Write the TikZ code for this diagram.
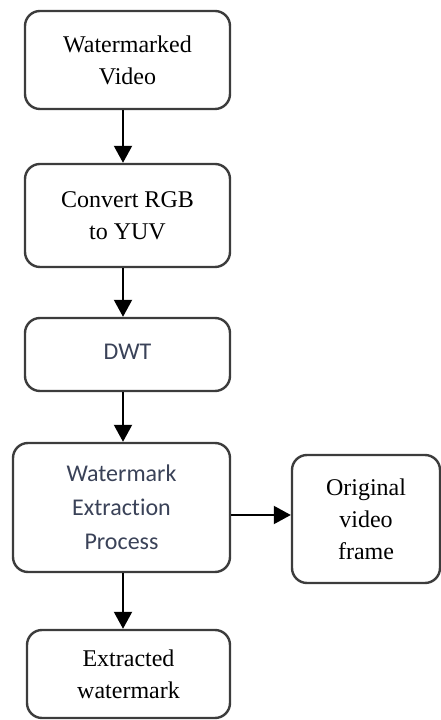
\documentclass[tikz,border=0pt]{standalone}
\usepackage{fontspec}
\setmainfont{Liberation Serif}
\newfontfamily\calfont[Ligatures={NoCommon}]{Carlito}
\usetikzlibrary{arrows.meta}
\definecolor{boxline}{HTML}{3C3C3C}
\definecolor{sanstext}{HTML}{3A4258}
\tikzset{
  stepbox/.style={draw=boxline, line width=2.4pt, rounded corners=15pt, fill=white,
    inner sep=0pt, align=center, font=\fontsize{24}{32}\selectfont},
  sansbox/.style={stepbox, text=sanstext, font=\calfont\fontsize{24}{34}\selectfont},
  flow/.style={draw=black, line width=2pt, -{Triangle[length=17pt,width=18pt]}}
}
\begin{document}
\begin{tikzpicture}[x=1pt,y=1pt]
  \useasboundingbox (0,0) rectangle (441,720);
  % processing chain
  \node[stepbox, minimum width=205pt, minimum height=98pt]  (video)  at (127.5,660)   {Watermarked\\Video};
  \node[stepbox, minimum width=205pt, minimum height=103pt] (yuv)    at (127.5,504.5) {Convert RGB\\to YUV};
  \node[sansbox, minimum width=205pt, minimum height=73pt]  (dwt)    at (127.5,365.5) {\raisebox{5pt}{DWT}};
  \node[sansbox, minimum width=217pt, minimum height=129pt] (extract) at (121.5,212.5) {Watermark\\Extraction\\Process};
  \node[stepbox, minimum width=148pt, minimum height=128pt] (orig)   at (366,201)     {Original\\video\\frame};
  \node[stepbox, minimum width=203pt, minimum height=88pt]  (result) at (128.5,46)    {Extracted\\watermark};
  % guide lines for the connectors
  \coordinate (spine) at (123,0);
  \coordinate (side) at (0,205);
  % connectors
  \draw[flow] (video.south -| spine) -- (yuv.north -| spine);
  \draw[flow] (yuv.south -| spine) -- (dwt.north -| spine);
  \draw[flow] (dwt.south -| spine) -- (extract.north -| spine);
  \draw[flow] (extract.south -| spine) -- (result.north -| spine);
  \draw[flow] (extract.east |- side) -- (orig.west |- side);
\end{tikzpicture}
\end{document}
